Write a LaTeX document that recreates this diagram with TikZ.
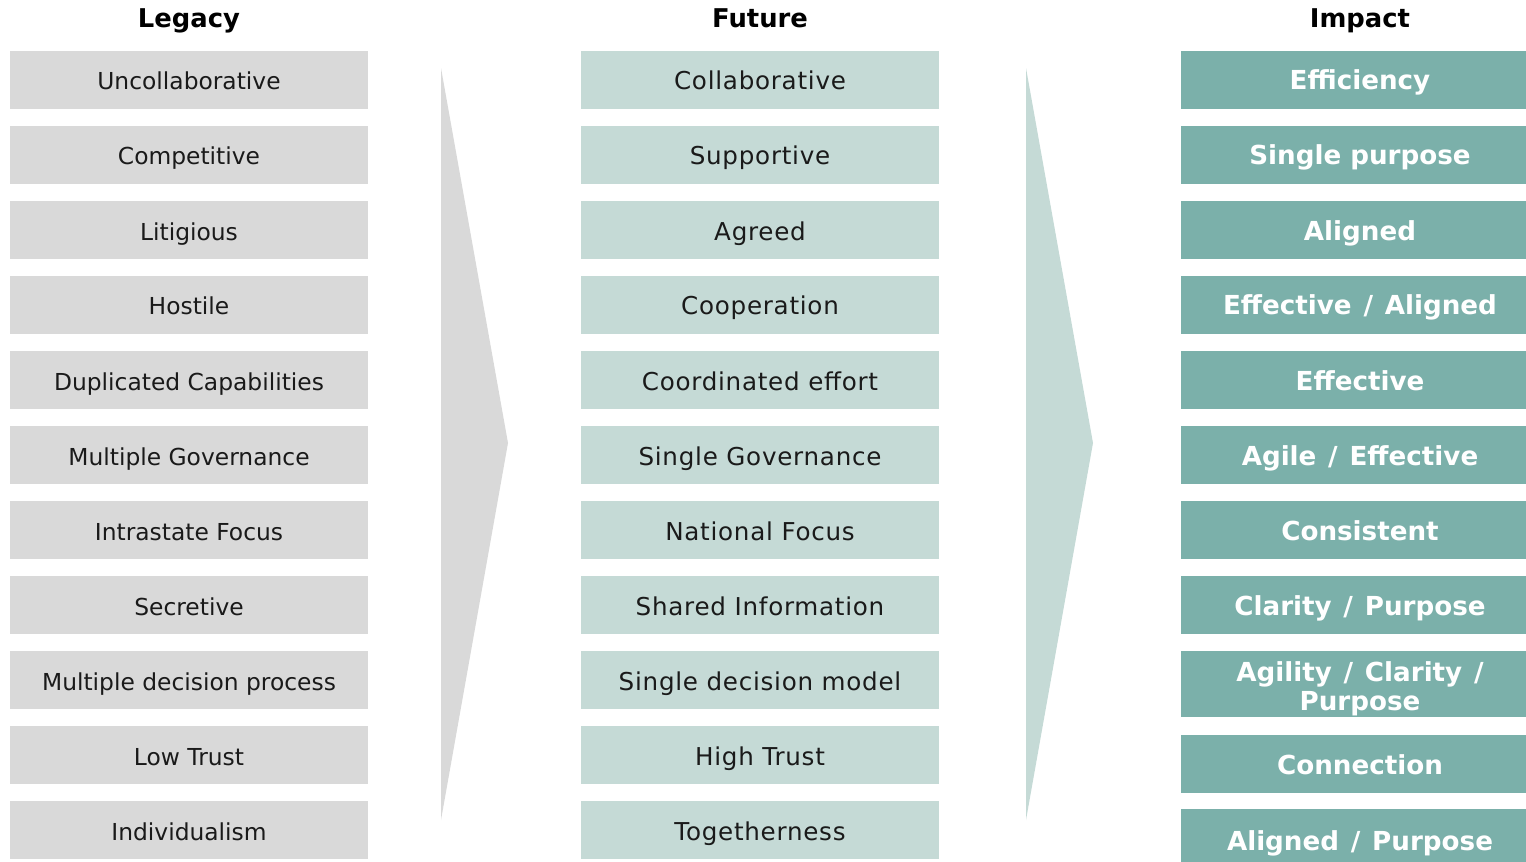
\documentclass[tikz,border=0pt]{standalone}
\usepackage{fontspec}
\setmainfont{DejaVu Sans}
\newfontfamily\widefont[LetterSpace=3]{DejaVu Sans}
\definecolor{legacygray}{HTML}{D9D9D9}
\definecolor{futureteal}{HTML}{C5DAD6}
\definecolor{impactteal}{HTML}{7BB0AA}
\definecolor{ink}{HTML}{1A1A1A}
\tikzset{
	head/.style={anchor=base, font=\fontsize{14.7}{16}\selectfont\bfseries, text=black},
	cell/.style={minimum width=7.16cm, minimum height=1.16cm, inner sep=0pt,
		text height=0.4cm, text depth=0pt},
	legbox/.style={cell, fill=legacygray, text=ink, font=\fontsize{13.3}{16}\selectfont},
	futbox/.style={cell, fill=futureteal, text=ink, font=\fontsize{14}{16}\widefont},
	impbox/.style={cell, fill=impactteal, text=white, align=center,
		font=\fontsize{14.9}{16.4}\selectfont\bfseries}
}
\newcommand{\sep}{\hspace{0.45em}/\hspace{0.45em}}
\begin{document}
\begin{tikzpicture}[x=0.02cm, y=-0.02cm]
				\useasboundingbox (0,0) rectangle (1526,862);
				\begin{scope}
				\clip (0,0) rectangle (1526,862);
				% column heads
				\node[head] (hleg) at (189,28) {Legacy};
				\node[head] (hfut) at (760,28) {Future};
				\node[head] (himp) at (1360,28) {Impact};
				% the two big arrows
				\fill[legacygray] (441,68)--(508,443)--(441,820)--cycle;
				\fill[futureteal] (1026,68)--(1093,443)--(1026,820)--cycle;
				% legacy
				\node[legbox] (l1) at (189,80) {Uncollaborative};
				\node[legbox] (l2) at (189,155) {Competitive};
				\node[legbox] (l3) at (189,230) {Litigious};
				\node[legbox] (l4) at (189,305) {Hostile};
				\node[legbox] (l5) at (189,380) {Duplicated Capabilities};
				\node[legbox] (l6) at (189,455) {Multiple Governance};
				\node[legbox] (l7) at (189,530) {Intrastate Focus};
				\node[legbox] (l8) at (189,605) {Secretive};
				\node[legbox] (l9) at (189,680) {Multiple decision process};
				\node[legbox] (l10) at (189,755) {Low Trust};
				\node[legbox] (l11) at (189,830) {Individualism};
				% future
				\node[futbox] (f1) at (760,80) {Collaborative};
				\node[futbox] (f2) at (760,155) {Supportive};
				\node[futbox] (f3) at (760,230) {Agreed};
				\node[futbox] (f4) at (760,305) {Cooperation};
				\node[futbox] (f5) at (760,380) {Coordinated effort};
				\node[futbox] (f6) at (760,455) {Single Governance};
				\node[futbox] (f7) at (760,530) {National Focus};
				\node[futbox] (f8) at (760,605) {Shared Information};
				\node[futbox] (f9) at (760,680) {Single decision model};
				\node[futbox] (f10) at (760,755) {High Trust};
				\node[futbox] (f11) at (760,830) {Togetherness};
				% impact (boxes run past the right edge)
				\node[impbox] (i1) at (1360,80) {Efficiency};
				\node[impbox] (i2) at (1360,155) {Single purpose};
				\node[impbox] (i3) at (1360,230) {Aligned};
				\node[impbox] (i4) at (1360,305) {Effective\sep Aligned};
				\node[impbox] (i5) at (1360,380) {Effective};
				\node[impbox] (i6) at (1360,455) {Agile\sep Effective};
				\node[impbox] (i7) at (1360,530) {Consistent};
				\node[impbox] (i8) at (1360,605) {Clarity\sep Purpose};
				\node[impbox, minimum height=1.32cm, text height=1.04cm] (i9) at (1360,684) {Agility\sep Clarity\sep\\Purpose};
				\node[impbox] (i10) at (1360,764) {Connection};
				\node[impbox, minimum height=1.24cm] (i11) at (1360,840) {Aligned\sep Purpose};
				\end{scope}
		\end{tikzpicture}
\end{document}
